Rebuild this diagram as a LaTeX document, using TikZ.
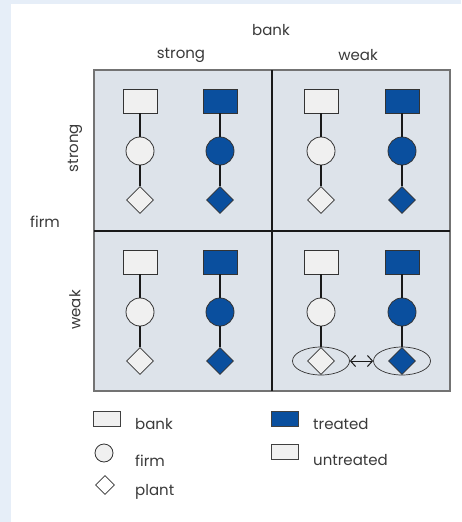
\documentclass[tikz,border=0pt]{standalone}
\usepackage{fontspec}
\setmainfont{Poppins}
\usetikzlibrary{shapes.geometric,arrows.meta}
\definecolor{bgblue}{HTML}{E6EEF8}
\definecolor{panel}{HTML}{DDE3EA}
\definecolor{treat}{HTML}{0A4F9E}
\definecolor{untreat}{HTML}{F0F0F0}
\definecolor{txt}{HTML}{3A3A3A}
\tikzset{
  lbl/.style={text=txt, font=\fontsize{15}{17}\selectfont, inner sep=0pt},
  sq/.style={rectangle, draw=black!80, line width=0.8pt, minimum width=34pt, minimum height=24pt, inner sep=0pt},
  crc/.style={circle, draw=black!80, line width=0.8pt, minimum size=28pt, inner sep=0pt},
  dia/.style={diamond, draw=black!80, line width=0.8pt, minimum size=27pt, inner sep=0pt},
  un/.style={fill=untreat},
  tr/.style={fill=treat},
  link/.style={line width=1.8pt, black!90},
  ell/.style={ellipse, draw=black!80, line width=0.7pt, minimum width=57pt, minimum height=28pt, inner sep=0pt},
  lsq/.style={rectangle, draw=black!75, line width=0.8pt, minimum width=27pt, minimum height=15pt, inner sep=0pt},
  lcrc/.style={circle, draw=black!80, line width=0.8pt, minimum size=18pt, inner sep=0pt, fill=untreat},
  ldia/.style={diamond, draw=black!80, line width=0.8pt, minimum size=19pt, inner sep=0pt, fill=white},
}
\begin{document}
\begin{tikzpicture}[x=1pt,y=-1pt]
\useasboundingbox (0,0) rectangle (461,522);
\fill[bgblue] (0,0) rectangle (461,522);
\fill[white] (11,4) rectangle (461,522);
% panel
\fill[panel] (94,70) rectangle (450,391);
\draw[line width=1.4pt, black!55] (94,70) rectangle (450,391);
\draw[line width=1.2pt, black!90] (272,70) -- (272,391);
\draw[line width=1.2pt, black!90] (94,231) -- (450,231);
% headings
\node[lbl] (hbank) at (271,30) {bank};
\node[lbl] (hstrong) at (181,55) {strong};
\node[lbl] (hweak) at (358,55) {weak};
\node[lbl] (hfirm) at (45,222) {firm};
\node[lbl, rotate=90] (vstrong) at (75,148) {strong};
\node[lbl, rotate=90] (vweak) at (75,310) {weak};
% nodes
\foreach \c/\x/\s in {a/140/un, b/220/tr, c/321/un, d/402/tr}{
  \foreach \r/\yo in {t/0, w/161}{
    \node[sq, \s] (\c\r s) at (\x,101+\yo) {};
    \node[crc, \s] (\c\r c) at (\x,151+\yo) {};
    \node[dia, \s] (\c\r d) at (\x,200+\yo) {};
    \draw[link] (\c\r s.south) -- (\c\r c.north);
    \draw[link] (\c\r c.south) -- (\c\r d.north);
  }
}
\node[ell] (e1) at (cwd) {};
\node[ell] (e2) at (dwd) {};
\draw[line width=1pt, black!90, {Straight Barb[length=5pt,width=11pt]}-{Straight Barb[length=5pt,width=11pt]}] (e1.east) -- (e2.west);
% legend
\node[lsq, fill=untreat] (lb) at (107,419) {};
\node[lbl, anchor=west] (lbt) at (135,424) {bank};
\node[lcrc] (lc) at (104,453) {};
\node[lbl, anchor=west] (lct) at (135,461) {firm};
\node[ldia] (ld) at (105,485) {};
\node[lbl, anchor=west] (ldt) at (135,492) {plant};
\node[lsq, fill=treat] (lt) at (285,419) {};
\node[lbl, anchor=west] (ltt) at (313,424) {treated};
\node[lsq, fill=untreat] (lu) at (285,452) {};
\node[lbl, anchor=west] (lut) at (313,460) {untreated};
\end{tikzpicture}
\end{document}
